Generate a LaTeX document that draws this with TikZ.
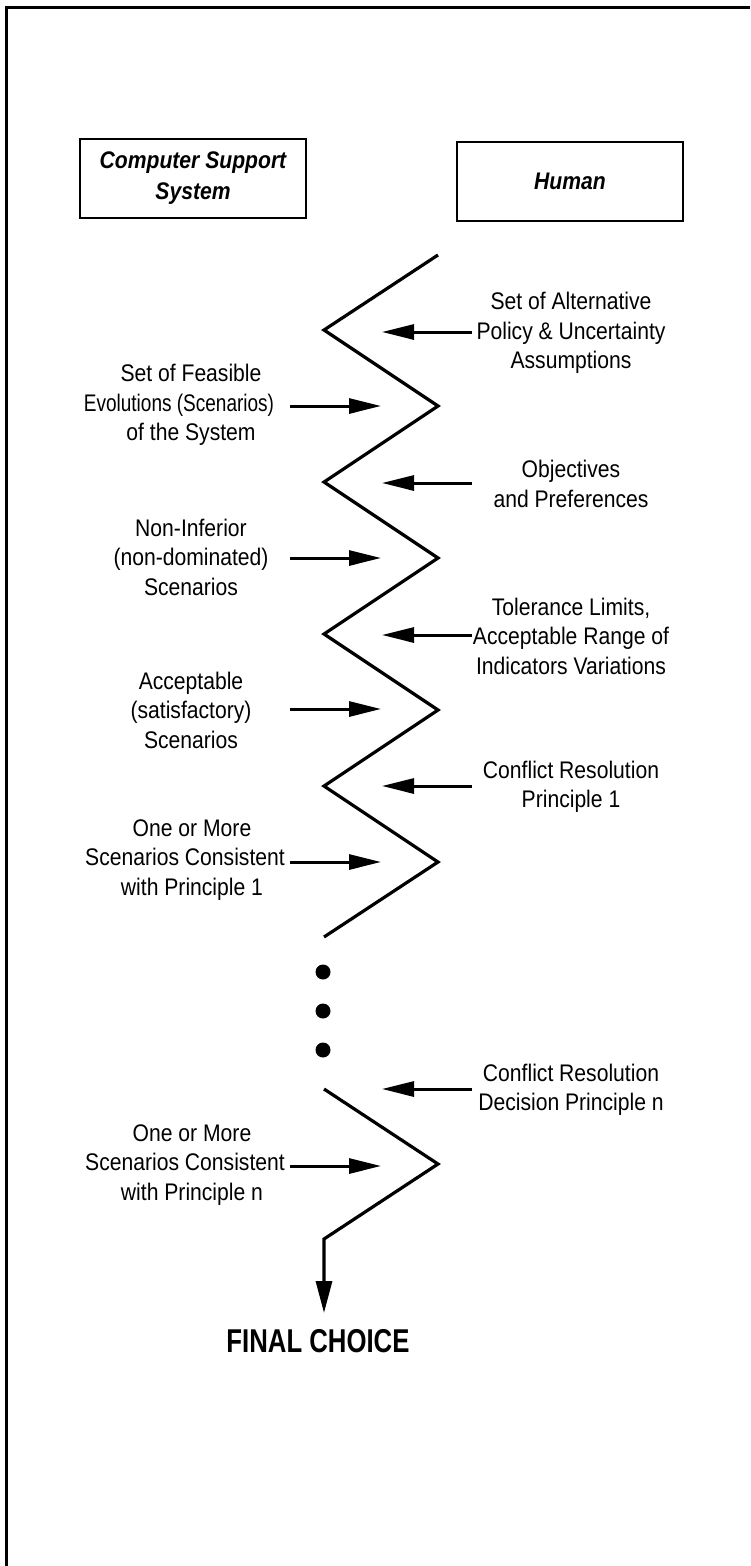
\documentclass[tikz,border=0pt]{standalone}
\usepackage{fontspec}
\usepackage{graphicx}
\setmainfont{Liberation Sans}
\newfontfamily\narrowfont{Liberation Sans}[FakeStretch=0.88]
\newfontfamily\choicefont{Liberation Sans}[FakeStretch=0.78]
\usetikzlibrary{arrows.meta}

\begin{document}
\begin{tikzpicture}[x=1pt, y=-1pt,
  txt/.style={align=center, inner sep=0pt,
    font=\narrowfont\fontsize{24}{29.5}\selectfont},
  headbox/.style={draw, line width=2pt, minimum width=226pt, minimum height=79pt,
    align=center, inner sep=0pt,
    font=\narrowfont\bfseries\itshape\fontsize{24}{31}\selectfont},
  zig/.style={line width=3.2pt, line join=miter, line cap=butt},
  feed/.style={line width=3pt, -{Triangle[length=32pt, width=15pt]}},
  dot/.style={circle, fill, inner sep=0pt, minimum size=15pt},
]
\useasboundingbox (0,0) rectangle (750,1566);

% frame
\draw[line width=3pt] (6,1566) -- (6,7) -- (750,7);

% column headings
\node[headbox] (css) at (193,178) {Computer Support\\System};
\node[headbox] (hum) at (570,181) {Human};

% vertices of the iteration zigzag
\coordinate (a0) at (438,255);
\coordinate (l1) at (324,330);
\coordinate (r1) at (438,406);
\coordinate (l2) at (324,482);
\coordinate (r2) at (438,558);
\coordinate (l3) at (324,634);
\coordinate (r3) at (438,710);
\coordinate (l4) at (324,786);
\coordinate (r4) at (438,862);
\coordinate (l5) at (324,937);
\coordinate (l6) at (324,1089);
\coordinate (r6) at (438,1164);
\coordinate (l7) at (324,1239);
\coordinate (fin) at (324,1313);

\draw[zig] (a0) -- (l1) -- (r1) -- (l2) -- (r2) -- (l3) -- (r3) -- (l4) -- (r4) -- (l5);
\draw[zig, -{Triangle[length=32pt, width=16pt]}] (l6) -- (r6) -- (l7) -- (fin);

% ellipsis between the stages
\node[dot] (d1) at (323,972) {};
\node[dot] (d2) at (323,1011) {};
\node[dot] (d3) at (323,1050) {};

% human inputs (right column)
\node[txt] (h1) at (571,333) {Set of Alternative\\Policy \& Uncertainty\\Assumptions};
\node[txt] (h2) at (571,484) {Objectives\\and Preferences};
\node[txt] (h3) at (571,636) {Tolerance Limits,\\Acceptable Range of\\Indicators Variations};
\node[txt] (h4) at (571,787) {Conflict Resolution\\Principle 1};
\node[txt] (h5) at (571,1090) {Conflict Resolution\\Decision Principle n};

% computer outputs (left column)
\node[txt] (c1) at (191,405) {Set of Feasible\\\mbox{\scalebox{0.9}[1]{Evolutions (Scenarios)}\kern24pt}\\of the System};
\node[txt] (c2) at (191,557) {Non-Inferior\\(non-dominated)\\Scenarios};
\node[txt] (c3) at (191,710) {Acceptable\\(satisfactory)\\Scenarios};
\node[txt] (c4) at (192,860) {One or More\\\mbox{Scenarios Consistent\kern14pt}\\with Principle 1};
\node[txt] (c5) at (192,1165) {One or More\\\mbox{Scenarios Consistent\kern14pt}\\with Principle n};

% arrow ends
\foreach \n/\y in {1/332, 2/483, 3/635, 4/786, 5/1089} {
  \coordinate (hs\n) at (472,\y);
  \coordinate (ht\n) at (382,\y);
}
\foreach \n/\y in {1/406, 2/558, 3/709, 4/862, 5/1166} {
  \coordinate (cs\n) at (290,\y);
  \coordinate (ct\n) at (381,\y);
}
\foreach \n in {1,...,5} {
  \draw[feed] (hs\n) -- (ht\n);
  \draw[feed] (cs\n) -- (ct\n);
}

% outcome
\node[inner sep=0pt, font=\choicefont\bfseries\fontsize{33}{36}\selectfont] (choice) at (318,1341) {FINAL CHOICE};
\end{tikzpicture}
\end{document}
